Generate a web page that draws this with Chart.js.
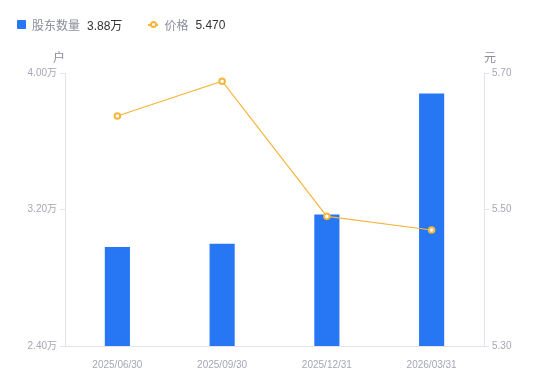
<!DOCTYPE html>
<html>
<head>
<meta charset="utf-8">
<script src="https://cdn.jsdelivr.net/npm/chart.js@4"></script>
<style>
  body { margin: 0; background: #fff; font-family: "Liberation Sans", "Noto Sans CJK SC", sans-serif; }
  #wrap { position: relative; width: 550px; height: 381px; }
  #legend { position: absolute; left: 17px; top: 16px; font-size: 12px; display: flex; align-items: center; }
  .item { display: flex; align-items: center; margin-right: 26px; }
  .name { color: #8a8d9c; margin-right: 7px; }
  .val { color: #333; }
  .sq { width: 9px; height: 9px; background: #2777f5; border-radius: 1px; margin-right: 6px; }
  .ln { position: relative; width: 10px; height: 9px; margin-right: 6px; }
  .ln:before { content: ""; position: absolute; left: 0; right: 0; top: 3.5px; height: 2px; background: #f6b53c; }
  .ln:after { content: ""; position: absolute; left: 2px; top: 1px; width: 3px; height: 3px; border: 2px solid #f6b53c; border-radius: 50%; background: #fff; }
</style>
</head>
<body>
<div id="wrap">
  <div id="legend">
    <div class="item"><span class="sq"></span><span class="name">股东数量</span><span class="val" id="v1"></span></div>
    <div class="item"><span class="ln"></span><span class="name">价格</span><span class="val" id="v2"></span></div>
  </div>
  <canvas id="chart" width="550" height="381"></canvas>
</div>
<script>
const dates = ["2025/06/30", "2025/09/30", "2025/12/31", "2026/03/31"];
const holders = [2.98, 3.00, 3.17, 3.88]; // 万户
const prices = [5.637, 5.688, 5.49, 5.47]; // 元
const leftTicks = [2.40, 3.20, 4.00];
const rightTicks = [5.30, 5.50, 5.70];

document.getElementById("v1").textContent = holders[holders.length - 1].toFixed(2) + "万";
document.getElementById("v2").textContent = prices[prices.length - 1].toFixed(3);

const gray = "#a5a7b6";
const axisColor = "#e3e3ea";
const font = { family: "'Liberation Sans', 'Noto Sans CJK SC', sans-serif", size: 10 };

// unit labels above each y axis
const unitTitles = {
  id: "unitTitles",
  afterDraw(chart) {
    const ctx = chart.ctx;
    ctx.save();
    ctx.font = "12px 'Noto Sans CJK SC', sans-serif";
    ctx.fillStyle = "#8a8d9c";
    ctx.textAlign = "center";
    ctx.textBaseline = "middle";
    ctx.fillText("户", chart.scales.y.right - 6, chart.chartArea.top - 16);
    ctx.fillText("元", chart.scales.y1.left + 6, chart.chartArea.top - 16);
    ctx.restore();
  }
};

new Chart(document.getElementById("chart"), {
  data: {
    labels: dates,
    datasets: [
      {
        type: "line",
        label: "价格",
        data: prices,
        yAxisID: "y1",
        borderColor: "#f6b53c",
        borderWidth: 1.2,
        backgroundColor: "#fff",
        pointBorderColor: "#f6b53c",
        pointBackgroundColor: "#fff",
        pointBorderWidth: 2,
        pointRadius: 2.8,
        tension: 0,
        order: 0
      },
      {
        type: "bar",
        label: "股东数量",
        data: holders,
        yAxisID: "y",
        backgroundColor: "#2777f5",
        categoryPercentage: 1,
        barPercentage: 0.24,
        order: 1
      }
    ]
  },
  options: {
    responsive: false,
    animation: false,
    layout: { padding: { top: 73 } },
    plugins: { legend: { display: false }, tooltip: { enabled: false } },
    scales: {
      x: {
        grid: { display: false },
        border: { display: true, color: axisColor },
        ticks: { color: gray, font: font, padding: 5, maxRotation: 0 },
        afterFit(s) { s.height = 35; }
      },
      y: {
        position: "left",
        min: 2.4,
        max: 4.0,
        afterBuildTicks(s) { s.ticks = leftTicks.map(v => ({ value: v })); },
        grid: { drawOnChartArea: false, drawTicks: true, tickLength: 5, color: axisColor },
        border: { display: true, color: axisColor },
        ticks: { color: gray, font: font, padding: 3, callback: v => v.toFixed(2) + "万" },
        afterFit(s) { s.width = 65; }
      },
      y1: {
        position: "right",
        min: 5.3,
        max: 5.7,
        afterBuildTicks(s) { s.ticks = rightTicks.map(v => ({ value: v })); },
        grid: { drawOnChartArea: false, drawTicks: true, tickLength: 5, color: axisColor },
        border: { display: true, color: axisColor },
        ticks: { color: gray, font: font, padding: 3, callback: v => v.toFixed(2) },
        afterFit(s) { s.width = 66; }
      }
    }
  },
  plugins: [unitTitles]
});
</script>
</body>
</html>
